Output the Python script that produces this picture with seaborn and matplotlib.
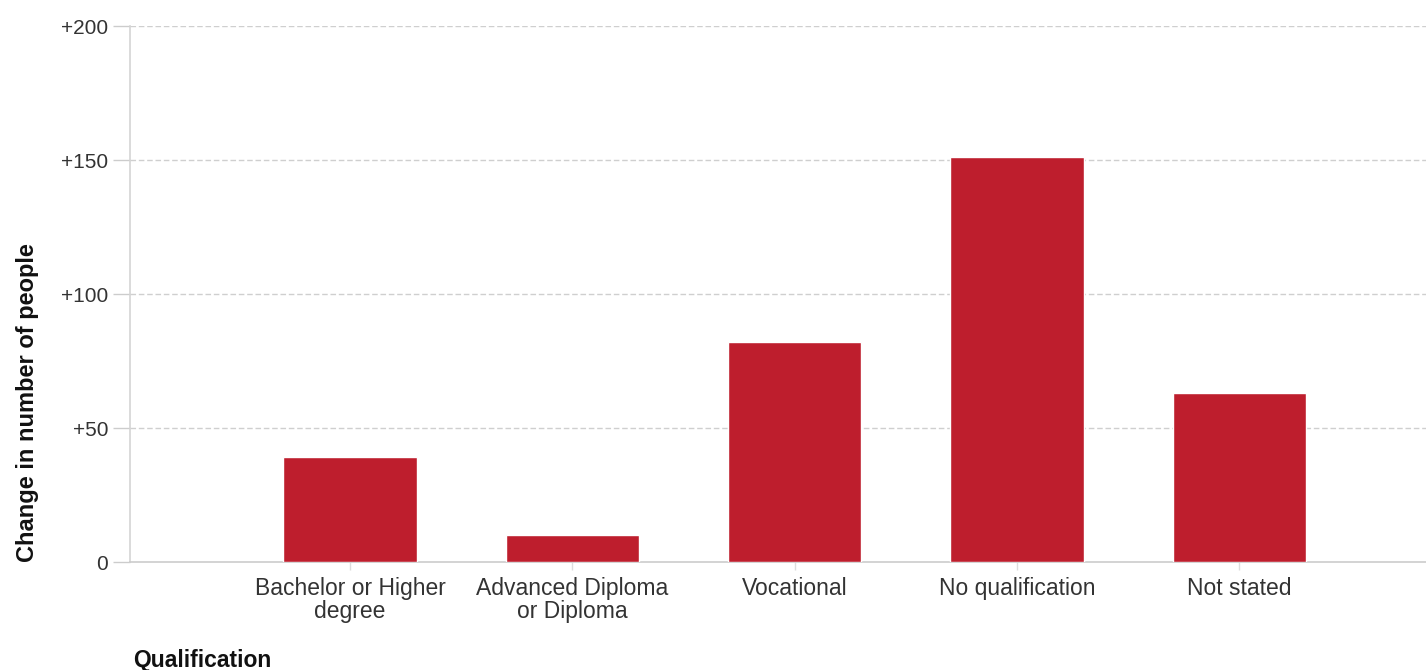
import matplotlib
matplotlib.use("Agg")
import matplotlib.pyplot as plt
import seaborn as sns
import pandas as pd

categories = ["Bachelor or Higher\ndegree", "Advanced Diploma\nor Diploma",
              "Vocational", "No qualification", "Not stated"]
values = [39, 10, 82, 151, 63]
y_ticks = [0, 50, 100, 150, 200]
y_tick_labels = ["0", "+50", "+100", "+150", "+200"]

sns.set_theme(style="white")
plt.rcParams['font.family'] = ['Liberation Sans', 'DejaVu Sans']

df = pd.DataFrame({"Qualification": categories, "Change": values})

fig = plt.figure(figsize=(14.26, 6.7), dpi=100)
ax = fig.add_axes([130 / 1426, 108 / 670, 1296 / 1426, 536 / 670])

sns.barplot(data=df, x="Qualification", y="Change", order=categories,
            color="#BE1E2D", saturation=1, width=0.6, ax=ax, zorder=3)

ax.set_xlim(-0.99, 4.84)
ax.set_ylim(0, 200)
ax.set_yticks(y_ticks)
ax.set_yticklabels(y_tick_labels)

for y in y_ticks[1:]:
    ax.axhline(y, color="#cfcfcf", linestyle=(0, (4, 2)), linewidth=1, zorder=1)

for s in ["top", "right"]:
    ax.spines[s].set_visible(False)
ax.spines["left"].set_color("#d4d4d4")
ax.spines["bottom"].set_color("#cccccc")
ax.spines["left"].set_linewidth(1.2)
ax.spines["bottom"].set_linewidth(1.2)

ax.tick_params(axis="y", length=12, width=1, color="#cccccc", pad=3.6,
               labelsize=15, labelcolor="#333333", left=True)
ax.tick_params(axis="x", length=6, width=1, color="#dddddd", pad=5,
               labelsize=16.5, labelcolor="#333333", bottom=True)
for lbl in ax.get_xticklabels():
    lbl.set_linespacing(1.0)

ax.set_xlabel("")
ax.set_ylabel("Change in number of people", fontsize=17, fontweight="bold",
              color="#111111", loc="bottom")
ax.yaxis.set_label_coords(-0.0705, 0)

fig.text(133 / 1426, 10 / 670, "Qualification", ha="left", va="center",
         fontsize=16.5, fontweight="bold", color="#111111")

fig.savefig("out.png", dpi=100)
